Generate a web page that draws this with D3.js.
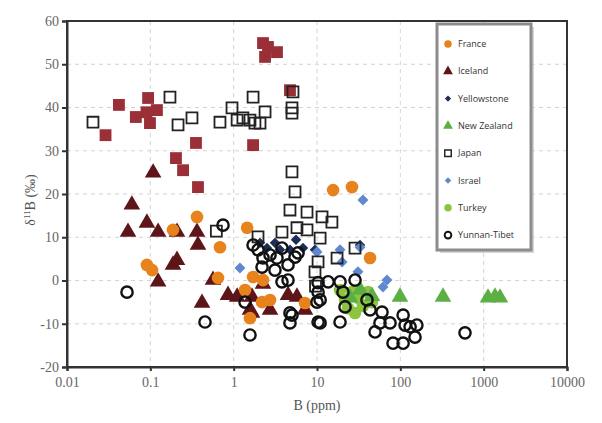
<!DOCTYPE html>
<html><head><meta charset="utf-8">
<script src="https://cdn.jsdelivr.net/npm/d3@7"></script>
<style>body{margin:0;background:#fff}svg{display:block}</style>
</head><body>
<svg id="c" width="602" height="423"></svg>
<script>
const xTicks = [0.01, 0.1, 1, 10, 100, 1000, 10000];
const xTickLabels = ["0.01", "0.1", "1", "10", "100", "1000", "10000"];
const yTicks = [-20, -10, 0, 10, 20, 30, 40, 50, 60];
const legendNames = ["France","Iceland","Yellowstone","New Zealand","Japan","Israel","Turkey","Yunnan-Tibet"];

// unlabeled maroon squares
const redSquares = [[0.029,33.6],[0.042,40.6],[0.067,37.8],[0.094,42.2],[0.12,39.4],[0.099,36.4],[0.09,38.9],[0.353,31.8],[0.203,28.3],[0.247,25.5],[0.373,21.6],[1.71,31.3],[2.25,54.9],[2.58,54.0],[3.31,52.8],[2.38,51.7],[4.74,44.0]];
const japan = [[0.0205,36.6],[0.172,42.4],[0.215,36.0],[0.316,37.6],[0.685,36.6],[0.955,39.9],[1.10,37.1],[1.29,37.6],[1.57,37.1],[1.80,36.4],[1.71,42.4],[2.38,39.0],[2.07,36.4],[5.15,43.6],[5.01,39.9],[5.01,38.7],[5.01,25.1],[5.45,20.5],[4.74,16.3],[7.59,15.8],[11.5,14.7],[15.1,13.5],[3.80,11.2],[5.75,12.2],[7.59,11.7],[10.9,9.8],[1.96,10.1],[0.62,11.4],[28.6,7.5],[17.4,5.2],[9.46,2.0],[10.3,4.3],[9.6,-1.3]];
const yellowstone = [[2.51,7.5],[3.60,7.1],[4.74,7.1],[6.79,7.5],[9.46,7.1],[3.13,8.7],[2.07,8.7],[5.6,9.4],[32.8,8.2]];
const israel = [[35.6,18.6],[1.19,2.9],[10.0,6.6],[18.9,7.1],[32.8,7.7],[20.0,4.3],[31.0,2.0],[69.2,0.1],[61.9,-1.5]];
const france = [[0.363,14.7],[0.187,11.7],[0.091,3.6],[0.105,2.4],[1.45,12.2],[0.685,7.7],[0.649,0.6],[1.71,0.8],[2.19,-5.0],[1.57,-8.7],[7.18,-5.2],[2.25,0.1],[15.6,20.9],[26.3,21.6],[43.3,5.2],[1.37,-2.2],[2.73,-4.5]];
const iceland = [[0.108,24.9],[0.060,17.5],[0.091,13.3],[0.054,11.2],[0.124,11.2],[0.209,11.2],[0.363,11.2],[0.373,8.2],[0.209,4.7],[0.187,3.6],[0.124,-0.3],[0.417,-5.2],[0.565,0.1],[0.855,-3.4],[1.10,-3.8],[1.66,-3.8],[2.73,-6.8],[1.66,-7.5],[4.49,-3.4],[5.75,-3.8],[7.18,-6.8],[2.25,-0.8],[1.57,-6.8]];
const yunnan = [[0.0525,-2.7],[0.453,-9.6],[1.57,-12.6],[1.37,-5.0],[0.745,12.8],[1.71,8.2],[2.19,3.1],[3.13,2.4],[4.49,3.6],[5.92,6.4],[3.31,5.2],[3.80,-0.3],[4.49,0.1],[10.3,-0.5],[10.3,-2.7],[10.9,-4.5],[5.01,-8.0],[10.3,-9.6],[4.74,-9.8],[4.74,-7.5],[13.6,-0.3],[18.9,-0.3],[28.6,0.1],[20.5,-2.7],[21.7,-6.1],[39.8,-4.5],[43.3,-6.8],[60.3,-7.3],[57.0,-9.8],[75.2,-9.8],[49.7,-11.9],[81.7,-14.5],[108,-14.5],[108,-8.0],[114,-10.3],[131,-10.7],[158,-10.3],[150,-13.1],[18.9,-9.6],[10.9,-9.8],[597,-12.1],[10.0,-5.0],[1.96,7.1],[2.73,5.9],[3.8,7.5],[5.45,5.4],[2.25,5.2]];
const turkey = [[21.7,-4.5],[26.3,-2.7],[31.0,-4.0],[35.6,-5.9],[23.6,-6.4],[40.9,-2.7],[28.6,-7.5],[18.9,-2.2],[45.7,-5.0]];
const newZealand = [[99,-3.8],[325,-3.8],[1127,-4.0],[1368,-3.8],[1570,-4.0],[25,-4.0],[45.7,-3.6],[33,-2.2]];

const styles = {
  red:   {sym: d3.symbolSquare, size: 140, fill: "#9b2f38", stroke: "none", sw: 0, rot: 0},
  france:{sym: d3.symbolCircle, size: 125, fill: "#e8821c", stroke: "none", sw: 0, rot: 0},
  iceland:{sym: d3.symbolTriangle, size: 120, fill: "#5e1519", stroke: "none", sw: 0, rot: 0},
  yellowstone:{sym: d3.symbolSquare, size: 55, fill: "#1d2c57", stroke: "none", sw: 0, rot: 45},
  nz:{sym: d3.symbolTriangle, size: 120, fill: "#5cb043", stroke: "none", sw: 0, rot: 0},
  japan:{sym: d3.symbolSquare, size: 120, fill: "none", stroke: "#222", sw: 1.8, rot: 0},
  israel:{sym: d3.symbolSquare, size: 60, fill: "#6088cf", stroke: "none", sw: 0, rot: 45},
  turkey:{sym: d3.symbolCircle, size: 125, fill: "#8cc43f", stroke: "none", sw: 0, rot: 0},
  yunnan:{sym: d3.symbolCircle, size: 100, fill: "none", stroke: "#111", sw: 2.4, rot: 0}
};

const svg = d3.select("#c");
const x = d3.scaleLog().domain([0.01, 10000]).range([67, 567]);
const y = d3.scaleLinear().domain([-20, 60]).range([367, 21]);

// grid
const g = svg.append("g");
g.selectAll(".gx").data(xTicks.slice(1, -1)).join("line")
  .attr("x1", d => x(d)).attr("x2", d => x(d)).attr("y1", y(60)).attr("y2", y(-20))
  .attr("stroke", "#d4d4d4").attr("stroke-dasharray", "4,4");
g.selectAll(".gy").data(yTicks.slice(1, -1)).join("line")
  .attr("y1", d => y(d)).attr("y2", d => y(d)).attr("x1", x(0.01)).attr("x2", x(10000))
  .attr("stroke", "#d4d4d4").attr("stroke-dasharray", "4,4");

// frame
svg.append("rect").attr("x", x(0.01)).attr("y", y(60)).attr("width", x(10000) - x(0.01)).attr("height", y(-20) - y(60))
  .attr("fill", "none").attr("stroke", "#333").attr("stroke-width", 2);

// axes
const xAxis = svg.append("g").attr("transform", `translate(0,${y(-20)})`)
  .call(d3.axisBottom(x).tickValues(xTicks).tickFormat((d, i) => xTickLabels[i]).tickSize(4));
const yAxis = svg.append("g").attr("transform", `translate(${x(0.01)},0)`)
  .call(d3.axisLeft(y).tickValues(yTicks).tickSize(5).tickFormat(d => d));
[xAxis, yAxis].forEach(a => {
  a.select(".domain").attr("stroke", "#333").attr("stroke-width", 2);
  a.selectAll(".tick line").attr("stroke", "#333").attr("stroke-width", 2);
  a.selectAll("text").attr("font-family", "Liberation Serif, serif").attr("font-size", 14).attr("fill", "#666");
});
xAxis.selectAll("text").attr("dy", "0.95em");

svg.append("text").attr("x", (x(0.01) + x(10000)) / 2).attr("y", 410).attr("text-anchor", "middle")
  .attr("font-family", "Liberation Serif, serif").attr("font-size", 14).attr("fill", "#555").text("B (ppm)");
const yl = svg.append("text").attr("transform", "translate(35,200) rotate(-90)").attr("text-anchor", "middle")
  .attr("font-family", "Liberation Serif, serif").attr("font-size", 14).attr("fill", "#555");
yl.append("tspan").text("δ");
yl.append("tspan").attr("font-size", 9).attr("dy", -5).text("11");
yl.append("tspan").attr("dy", 5).text("B (‰)");

// points
function draw(data, st) {
  svg.append("g").selectAll("path").data(data).join("path")
    .attr("d", d3.symbol().type(st.sym).size(st.size))
    .attr("transform", d => `translate(${x(d[0])},${y(d[1])}) rotate(${st.rot})`)
    .attr("fill", st.fill).attr("stroke", st.stroke).attr("stroke-width", st.sw);
}
draw(redSquares, styles.red);
draw(iceland, styles.iceland);
draw(france, styles.france);
draw(yellowstone, styles.yellowstone);
draw(israel, styles.israel);
draw(japan, styles.japan);
draw(turkey, styles.turkey);
draw(newZealand, styles.nz);
draw(yunnan, styles.yunnan);

// legend
const lg = svg.append("g");
lg.append("rect").attr("x", 440).attr("y", 27).attr("width", 94).attr("height", 226).attr("fill", "#bbb").attr("opacity", 0.6);
lg.append("rect").attr("x", 437).attr("y", 24).attr("width", 94).attr("height", 226).attr("fill", "#fff")
  .attr("stroke", "#8c8c8c").attr("stroke-width", 3);
const legendStyles = [styles.france, styles.iceland, styles.yellowstone, styles.nz, styles.japan, styles.israel, styles.turkey, styles.yunnan];
legendNames.forEach((n, i) => {
  const yy = 44 + i * 27.3;
  const st = legendStyles[i];
  lg.append("path").attr("d", d3.symbol().type(st.sym).size(st.size * 0.35))
    .attr("transform", `translate(448,${yy}) rotate(${st.rot})`)
    .attr("fill", st.fill).attr("stroke", st.stroke).attr("stroke-width", st.sw ? st.sw * 0.8 : 0);
  lg.append("text").attr("x", 458).attr("y", yy).attr("dy", "0.35em")
    .attr("font-family", "Open Sans, sans-serif").attr("font-size", 9).attr("fill", "#333").text(n);
});
</script>
</body></html>
